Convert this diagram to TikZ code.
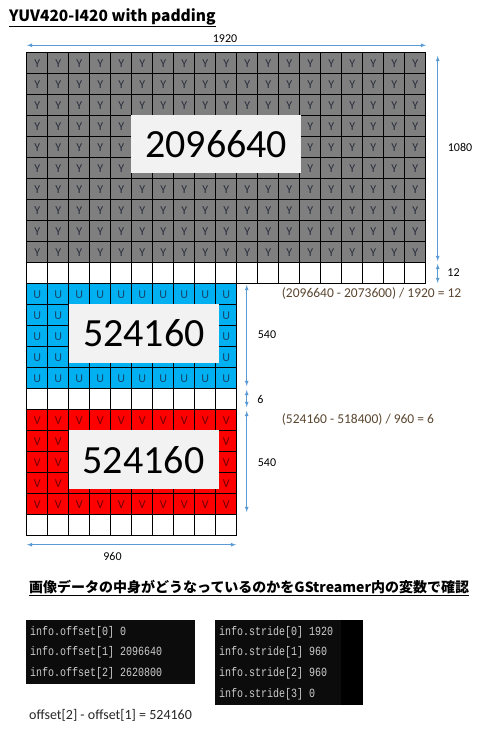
\documentclass[tikz,border=0pt]{standalone}
\usepackage{fontspec}
\setmainfont{Carlito}
\newfontfamily\jpfont{Noto Sans CJK JP}
\newfontfamily\consfont[FakeStretch=0.8]{Liberation Mono}
\usetikzlibrary{arrows}
\definecolor{yFill}{RGB}{127,127,127}
\definecolor{uFill}{RGB}{0,176,240}
\definecolor{vFill}{RGB}{255,0,0}
\definecolor{yText}{RGB}{40,45,60}
\definecolor{uText}{RGB}{20,70,110}
\definecolor{vText}{RGB}{110,0,0}
\definecolor{boxFill}{RGB}{242,242,242}
\definecolor{dimColor}{RGB}{91,155,213}
\definecolor{calcText}{RGB}{90,70,48}
\definecolor{consBg}{RGB}{12,12,12}
\definecolor{consText}{RGB}{204,204,204}

\begin{document}
\begin{tikzpicture}[x=1pt, y=-1pt,
    cell/.style={draw, line width=0.8pt, minimum size=21pt, inner sep=0pt, anchor=north west, font=\fontsize{12}{13}\selectfont},
    numbox/.style={fill=boxFill, inner sep=0pt, anchor=north west, font=\fontsize{40}{44}\selectfont},
    dim/.style={latex-latex, draw=dimColor, line width=0.8pt},
    dimlabel/.style={font=\fontsize{12}{14}\selectfont, inner sep=1pt},
    calc/.style={anchor=west, text=calcText, font=\fontsize{13.5}{15}\selectfont, inner sep=0pt},
    cons/.style={anchor=west, text=consText, font=\consfont\fontsize{12.5}{14}\selectfont, inner sep=0pt}]
    \useasboundingbox (0,0) rectangle (480,729);

    % --- Titel ---
    \node[anchor=west, inner sep=0pt, font=\jpfont\bfseries\fontsize{15.5}{18}\selectfont] (title) at (9,18) {\underline{YUV420-I420 with padding}};

    % --- Y-Ebene (10 Zeilen + 1 Padding), verdeckte Zellen ohne Buchstabe ---
    \foreach \r in {0,...,9}
        \foreach \c in {0,...,18} {
            \pgfmathtruncatemacro\hide{(\c>4)&&(\c<13)&&(\r>2)&&(\r<6)}
            \node[cell, fill=yFill, text=yText] at ({26.3+21*\c},{52.3+21*\r}) {\ifnum\hide=0 Y\fi};
        }
    \foreach \c in {0,...,18}
        \node[cell, fill=white] at ({26.3+21*\c},262.3) {};

    % --- U-Ebene ---
    \foreach \r in {0,...,4}
        \foreach \c in {0,...,9} {
            \pgfmathtruncatemacro\hide{(\c>1)&&(\c<9)&&(\r>0)&&(\r<4)}
            \node[cell, fill=uFill, text=uText] at ({26.3+21*\c},{283.3+21*\r}) {\ifnum\hide=0 U\fi};
        }
    \foreach \c in {0,...,9}
        \node[cell, fill=white] at ({26.3+21*\c},388.3) {};

    % --- V-Ebene ---
    \foreach \r in {0,...,4}
        \foreach \c in {0,...,9} {
            \pgfmathtruncatemacro\hide{(\c>1)&&(\c<9)&&(\r>0)&&(\r<4)}
            \node[cell, fill=vFill, text=vText] at ({26.3+21*\c},{409.3+21*\r}) {\ifnum\hide=0 V\fi};
        }
    \foreach \c in {0,...,9}
        \node[cell, fill=white] at ({26.3+21*\c},514.3) {};

    % --- Groessen ---
    \node[numbox, minimum width=170pt, minimum height=58pt] (ySize) at (131,115) {2096640};
    \node[numbox, minimum width=150.7pt, minimum height=58.7pt] (uSize) at (68.3,304) {524160};
    \node[numbox, minimum width=150pt, minimum height=59pt] (vSize) at (68.3,430) {524160};

    % --- Masspfeile ---
    \coordinate (yLeft) at (27,45.3);
    \coordinate (yRight) at (426,45.3);
    \coordinate (yTop) at (437.7,56);
    \coordinate (yBottom) at (437.7,261);
    \coordinate (padTop) at (437.7,264);
    \coordinate (padBottom) at (437.7,283);
    \coordinate (uTop) at (246.7,285);
    \coordinate (uBottom) at (246.7,386);
    \coordinate (uPadTop) at (246.7,390);
    \coordinate (uPadBottom) at (246.7,407);
    \coordinate (vTop) at (246.7,411);
    \coordinate (vBottom) at (246.7,512);
    \coordinate (vLeft) at (27,544.7);
    \coordinate (vRight) at (236,544.7);

    \draw[dim] (yLeft) -- (yRight);
    \draw[dim] (yTop) -- (yBottom);
    \draw[dim] (padTop) -- (padBottom);
    \draw[dim] (uTop) -- (uBottom);
    \draw[dim] (uPadTop) -- (uPadBottom);
    \draw[dim] (vTop) -- (vBottom);
    \draw[dim] (vLeft) -- (vRight);

    \node[dimlabel] (yWidth) at (225,38.5) {1920};
    \node[dimlabel] (yHeight) at (460,147) {1080};
    \node[dimlabel] (yPad) at (453.5,272.3) {12};
    \node[dimlabel] (uHeight) at (267,334.3) {540};
    \node[dimlabel] (uPad) at (260.5,399) {6};
    \node[dimlabel] (vHeight) at (267,462.3) {540};
    \node[dimlabel] (uWidth) at (112.5,556) {960};

    % --- Rechnungen ---
    \node[calc] (yCalc) at (281.7,293.3) {(2096640 - 2073600) / 1920 = 12};
    \node[calc] (uCalc) at (281.7,419.3) {(524160 - 518400) / 960 = 6};

    % --- GStreamer ---
    \node[anchor=west, inner sep=0pt, font=\jpfont\bfseries\fontsize{14}{16}\selectfont] (jpTitle) at (29,588.3) {\underline{画像データの中身がどうなっているのかをGStreamer内の変数で確認}};

    \fill[consBg] (26,620) rectangle (195,684);
    \fill[black] (215,620) rectangle (363,705);
    \fill[consBg] (215,620) rectangle (341,705);
    \node[cons] (off0) at (30,632.3) {info.offset[0] 0};
    \node[cons] (off1) at (30,652.3) {info.offset[1] 2096640};
    \node[cons] (off2) at (30,673.3) {info.offset[2] 2620800};
    \node[cons] (str0) at (219,632.3) {info.stride[0] 1920};
    \node[cons] (str1) at (219,652.3) {info.stride[1] 960};
    \node[cons] (str2) at (219,673.3) {info.stride[2] 960};
    \node[cons] (str3) at (219,694.3) {info.stride[3] 0};

    \node[anchor=west, inner sep=0pt, text=black!85, font=\fontsize{14}{16}\selectfont] (offDiff) at (29,715.3) {offset[2] - offset[1] = 524160};
\end{tikzpicture}
\end{document}
